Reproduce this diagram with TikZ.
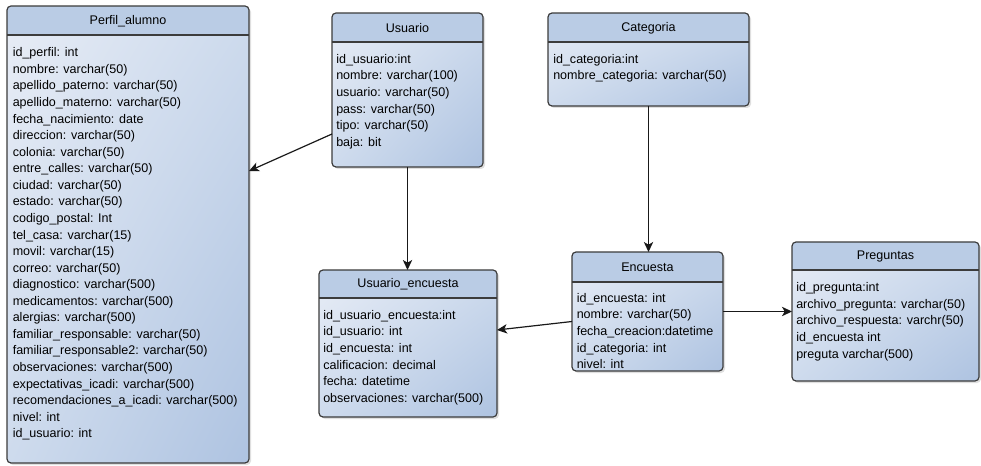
\documentclass[tikz,border=0pt]{standalone}
\usepackage{fontspec}
\setmainfont{Liberation Sans}
\usetikzlibrary{arrows.meta,shadings,shadows,fit,calc}
\definecolor{hdrfill}{RGB}{186,204,229}
\definecolor{bodyA}{RGB}{232,237,246}
\definecolor{bodyM}{RGB}{206,219,237}
\definecolor{bodyB}{RGB}{174,195,225}
\definecolor{boxborder}{RGB}{60,60,60}
\definecolor{connline}{RGB}{25,25,25}
\tikzset{
  tbox/.style={inner sep=0pt, outer sep=0pt, rounded corners=3pt,
    shading=bilinear interpolation,
    upper left=bodyA, upper right=bodyM, lower left=bodyM, lower right=bodyB,
    drop shadow={shadow xshift=1.5pt, shadow yshift=-1.5pt, opacity=0.25}},
  boxline/.style={draw=boxborder, line width=0.9pt},
  titletext/.style={inner sep=0pt, font=\fontsize{9.4}{11}\selectfont},
  fields/.style={inner sep=0pt, anchor=north west, align=left,
    font=\fontsize{9.4}{12.42}\selectfont},
  conn/.style={draw=connline, line width=0.9pt,
    -{Stealth[length=7.5pt,width=7pt,inset=2pt]}},
}
\newcommand\ertable[7]{%
  \node[tbox, fit={(#2,#3) (#4,#5)}] (#1) {};
  \begin{scope}
    \clip[rounded corners=3pt] (#1.north west) rectangle (#1.south east);
    \fill[hdrfill] (#1.north west) rectangle (#4,#6);
  \end{scope}
  \draw[boxline, rounded corners=3pt] (#1.north west) rectangle (#1.south east);
  \draw[boxline] (#2,#6) -- (#4,#6);
  \node[titletext] (#1T) at ({(#2+#4)/2},{(#3+#6)/2+0.5}) {#7};
}
\begin{document}
\begin{tikzpicture}[x=0.75pt,y=-0.75pt]
\useasboundingbox (0,0) rectangle (981,466);

\ertable{perfil}{7}{6}{249}{463}{35}{Perfil\_alumno}
\node[fields] (perfilF) at (12.5,47.5) {id\_perfil: int\\
nombre: varchar(50)\\
apellido\_paterno: varchar(50)\\
apellido\_materno: varchar(50)\\
fecha\_nacimiento: date\\
direccion: varchar(50)\\
colonia: varchar(50)\\
entre\_calles: varchar(50)\\
ciudad: varchar(50)\\
estado: varchar(50)\\
codigo\_postal: Int\\
tel\_casa: varchar(15)\\
movil: varchar(15)\\
correo: varchar(50)\\
diagnostico: varchar(500)\\
medicamentos: varchar(500)\\
alergias: varchar(500)\\
familiar\_responsable: varchar(50)\\
familiar\_responsable2: varchar(50)\\
observaciones: varchar(500)\\
expectativas\_icadi: varchar(500)\\
recomendaciones\_a\_icadi: varchar(500)\\
nivel: int\\
id\_usuario: int};

\ertable{usuario}{332}{13}{483}{167}{42}{Usuario}
\node[fields] (usuarioF) at (336,54) {id\_usuario:int\\
nombre: varchar(100)\\
usuario: varchar(50)\\
pass: varchar(50)\\
tipo: varchar(50)\\
baja: bit};

\ertable{categoria}{548}{13}{749}{106}{42}{Categoria}
\node[fields] (categoriaF) at (553,54) {id\_categoria:int\\
nombre\_categoria: varchar(50)};

\ertable{uenc}{319}{270}{497}{417}{298}{Usuario\_encuesta}
\node[fields] (uencF) at (323,310) {id\_usuario\_encuesta:int\\
id\_usuario: int\\
id\_encuesta: int\\
calificacion: decimal\\
fecha: datetime\\
observaciones: varchar(500)};

\ertable{encuesta}{572}{252}{723}{371}{282}{Encuesta}
\node[fields] (encuestaF) at (576.5,293) {id\_encuesta: int\\
nombre: varchar(50)\\
fecha\_creacion:datetime\\
id\_categoria: int\\
nivel: int};

\ertable{preguntas}{792}{242}{979}{381}{270}{Preguntas}
\node[fields] (preguntasF) at (796,282.5) {id\_pregunta:int\\
archivo\_pregunta: varchar(50)\\
archivo\_respuesta: varchr(50)\\
id\_encuesta int\\
preguta varchar(500)};

\draw[conn] ($(usuario.west)+(0,44)$) -- ($(perfil.east)+(0,-63.5)$);
\draw[conn] (usuario.south) -- (usuario.south |- uenc.north);
\draw[conn] (categoria.south) -- (categoria.south |- encuesta.north);
\draw[conn] ($(encuesta.west)+(0,10)$) -- ($(uenc.east)+(0,-13.5)$);
\draw[conn] (encuesta.east) -- (preguntas.west);
\end{tikzpicture}
\end{document}
